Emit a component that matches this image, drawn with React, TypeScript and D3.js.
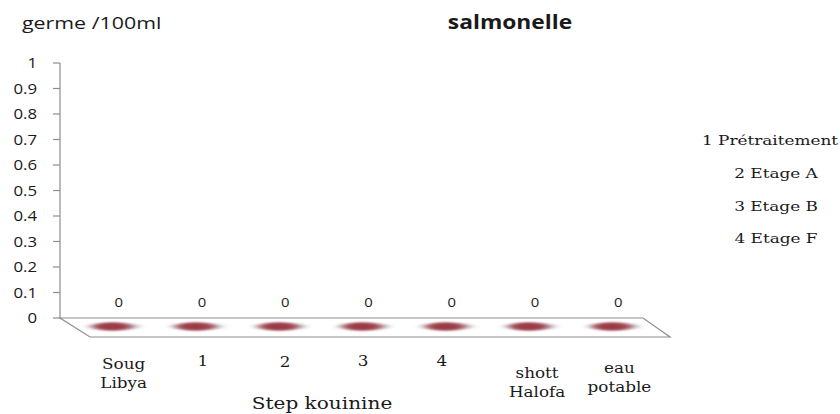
import React from "react";
import * as d3 from "d3";

const categories: string[][] = [["Soug", "Libya"], ["1"], ["2"], ["3"], ["4"], ["shott", "Halofa"], ["eau", "potable"]];
const values: number[] = [0, 0, 0, 0, 0, 0, 0];
const yTicks: number[] = [0, 0.1, 0.2, 0.3, 0.4, 0.5, 0.6, 0.7, 0.8, 0.9, 1];
const legendItems: string[] = ["1 Prétraitement", "2 Etage A", "3 Etage B", "4 Etage F"];
const title = "salmonelle";
const yTitle = "germe /100ml";
const xTitle = "Step kouinine";

const W = 840, H = 414;
const backLeft = 60, backRight = 643, depthX = 28, depthY = 19;
const sans = "'Open Sans', 'DejaVu Sans', sans-serif";
const serif = "'DejaVu Serif', 'Liberation Serif', serif";

// layout nudges for category labels (x offset, first baseline)
const catDx = [8, 4, 3, -2.5, -7, 5, 4];
const catBase = [369, 366, 367, 366, 366, 378, 373];

function T(props: { x: number; y: number; sx: number; anchor?: string; family: string; size: number; weight?: string; children: React.ReactNode }) {
  const { x, y, sx, anchor = "start", family, size, weight = "normal", children } = props;
  return (
    <text transform={`translate(${x},${y}) scale(${sx},1)`} textAnchor={anchor} fontFamily={family} fontSize={size} fontWeight={weight} fill="#1a1a1a">
      {children}
    </text>
  );
}

export default function App() {
  const y = d3.scaleLinear().domain([0, 1]).range([318, 63]);
  const x = d3.scaleBand<number>().domain(d3.range(categories.length)).range([backLeft, backRight]).padding(0);
  const mid = (i: number) => (x(i) as number) + x.bandwidth() / 2 + depthX / 2;
  const y0 = y(0);
  const axisColor = "#8e8e8e";
  return (
    <svg width={W} height={H} style={{ display: "block", position: "absolute", left: 0, top: 0, background: "#fff" }}>
      <defs>
        <filter id="blur" x="-50%" y="-100%" width="200%" height="300%">
          <feGaussianBlur stdDeviation="4 1.1" />
        </filter>
      </defs>
      <rect width={W} height={H} fill="#fff" />
      <T x={510} y={29} sx={1.2} anchor="middle" family={sans} size={19} weight="bold">{title}</T>
      <T x={22} y={29} sx={1.38} family={sans} size={15.5}>{yTitle}</T>
      {/* y axis */}
      <line x1={backLeft} x2={backLeft} y1={y(1)} y2={y0} stroke={axisColor} strokeWidth={1.2} />
      {yTicks.map((t) => (
        <g key={t}>
          <line x1={backLeft - 7} x2={backLeft} y1={y(t)} y2={y(t)} stroke={axisColor} strokeWidth={1.2} />
          <T x={37} y={y(t) + 5} sx={1.2} anchor="end" family={sans} size={14}>{t === 0 || t === 1 ? String(t) : t.toFixed(1)}</T>
        </g>
      ))}
      {/* floor */}
      <path
        d={`M${backLeft},${y0} L${backRight},${y0} L${backRight + depthX - 1},${y0 + depthY} L${backLeft + depthX + 2},${y0 + depthY} Z`}
        fill="#fff" stroke={axisColor} strokeWidth={1.2}
      />
      {values.map((v, i) => (
        <g key={i}>
          <ellipse cx={mid(i) - 2} cy={y(v) + 8.5} rx={26} ry={3.2} fill="#8a7a80" filter="url(#blur)" opacity={0.5} />
          <ellipse cx={mid(i) - 3} cy={y(v) + 8.5} rx={19} ry={4} fill="#a2434e" filter="url(#blur)" opacity={0.95} />
          <ellipse cx={mid(i) - 4} cy={y(v) + 8.5} rx={12} ry={3} fill="#95363f" filter="url(#blur)" opacity={0.7} />
          <T x={mid(i) + 3} y={y(v) - 11} sx={1.1} anchor="middle" family={sans} size={13.5}>{v}</T>
        </g>
      ))}
      {categories.map((lines, i) => (
        <g key={i}>
          {lines.map((l, j) => (
            <T key={j} x={mid(i) + catDx[i]} y={catBase[i] + j * 19} sx={1.2} anchor="middle" family={serif} size={14}>{l}</T>
          ))}
        </g>
      ))}
      <T x={322} y={409} sx={1.18} anchor="middle" family={serif} size={17}>{xTitle}</T>
      {legendItems.map((l, i) => (
        <T key={i} x={i === 0 ? 770 : 776} y={[145, 178, 211, 243][i]} sx={1.25} anchor="middle" family={serif} size={13.5}>{l}</T>
      ))}
    </svg>
  );
}
